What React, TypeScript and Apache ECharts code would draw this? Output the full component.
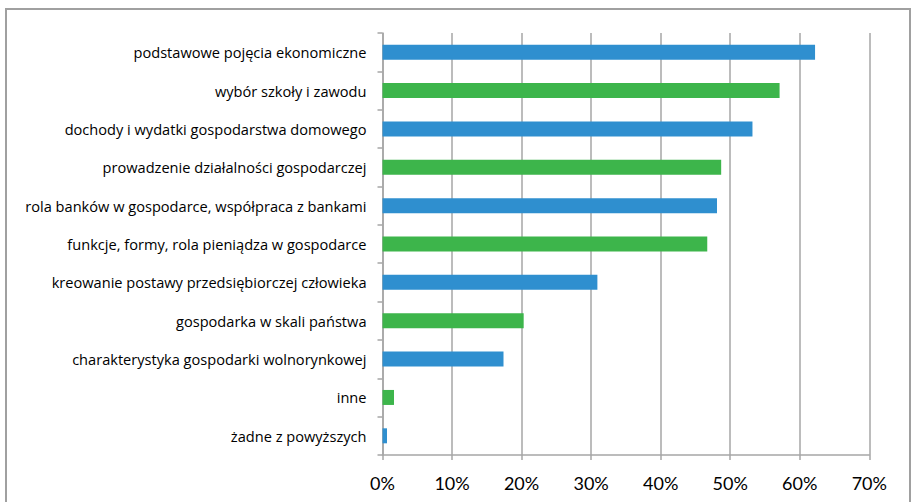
import React, { useEffect, useRef } from "react";
import * as echarts from "echarts";

const categories = [
  "podstawowe pojęcia ekonomiczne",
  "wybór szkoły i zawodu",
  "dochody i wydatki gospodarstwa domowego",
  "prowadzenie działalności gospodarczej",
  "rola banków w gospodarce, współpraca z bankami",
  "funkcje, formy, rola pieniądza w gospodarce",
  "kreowanie postawy przedsiębiorczej człowieka",
  "gospodarka w skali państwa",
  "charakterystyka gospodarki wolnorynkowej",
  "inne",
  "żadne z powyższych",
];

const values = [62.2, 57.1, 53.2, 48.7, 48.1, 46.7, 30.9, 20.3, 17.4, 1.65, 0.65];

const xTicks = [0, 10, 20, 30, 40, 50, 60, 70];

const BLUE = "#2F8FCF";
const GREEN = "#3DB54B";
const GRID = "#A6A6A6";

export default function App() {
  const ref = useRef<HTMLDivElement>(null);
  useEffect(() => {
    if (!ref.current) return;
    const chart = echarts.init(ref.current, undefined, { renderer: "svg" });
    chart.setOption({
      animation: false,
      backgroundColor: "#ffffff",
      graphic: [
        {
          type: "rect",
          shape: { x: 6, y: 9, width: 904, height: 500 },
          style: { fill: "none", stroke: "#A0A0A0", lineWidth: 2 },
          silent: true,
        },
      ],
      grid: { left: 382.5, right: 45.7, top: 33, bottom: 47, containLabel: false },
      xAxis: {
        type: "value",
        min: xTicks[0],
        max: xTicks[xTicks.length - 1],
        interval: 10,
        axisLine: { show: true, lineStyle: { color: GRID, width: 1.5 } },
        axisTick: { show: true, length: 5, lineStyle: { color: GRID, width: 1.5 } },
        splitLine: { show: true, lineStyle: { color: GRID, width: 1.5 } },
        axisLabel: {
          formatter: (v: number) => `${v}%`,
          fontFamily: "Lato",
          fontSize: 18,
          color: "#000",
          margin: 19,
        },
      },
      yAxis: {
        type: "category",
        data: categories,
        inverse: true,
        axisLine: { show: true, lineStyle: { color: GRID, width: 1.5 } },
        axisTick: { show: true, length: 5, lineStyle: { color: GRID, width: 1.5 } },
        axisLabel: {
          fontFamily: "Open Sans",
          fontSize: 14.6,
          color: "#000",
          margin: 16,
        },
      },
      series: [
        {
          type: "bar",
          data: values,
          barWidth: 15,
          itemStyle: {
            color: (p: any) => (p.dataIndex % 2 === 0 ? BLUE : GREEN),
          },
        },
      ],
    });
    return () => chart.dispose();
  }, []);
  return (
    <div
      ref={ref}
      style={{ position: "fixed", left: 0, top: 0, width: 915, height: 502 }}
    />
  );
}
